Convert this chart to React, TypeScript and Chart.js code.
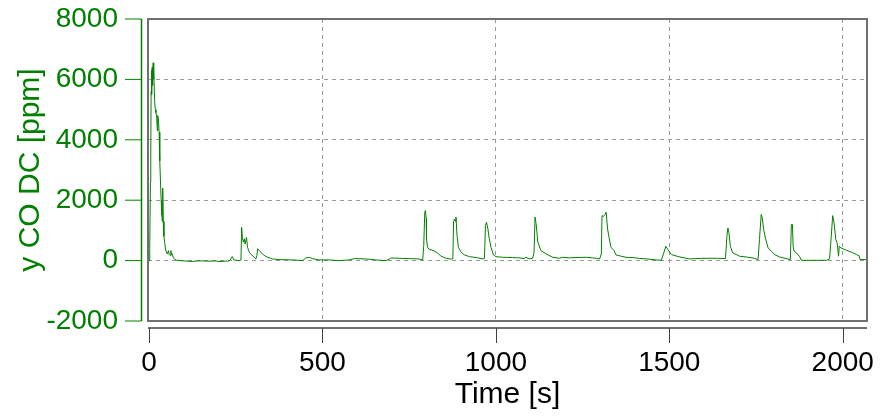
import React, { useEffect, useRef } from "react";
import { Chart, registerables } from "chart.js";

Chart.register(...registerables);

const timeS = [
  0, 2, 4, 5, 6, 7, 8, 9, 10, 11, 12, 13, 14, 16, 18, 20, 22, 24, 25, 27, 29, 31, 33, 35, 37, 38, 39, 40, 41, 43, 45, 48,
  51, 53, 56, 58, 61, 63, 65, 67, 70, 73, 80, 87, 100, 125, 140, 154, 173, 190, 202, 220, 231, 236, 240, 245, 260,
  265, 267, 269, 272, 275, 277, 281, 284, 289, 293, 303, 308, 311, 313, 318, 327, 337, 356, 375, 414, 443, 452, 462,
  471, 490, 519, 548, 577, 592, 625, 654, 683, 692, 697, 721, 750, 779, 789, 792, 795, 797, 799, 800, 803, 808, 813,
  822, 832, 842, 856, 870, 876, 878, 881, 883, 885, 888, 892, 900, 909, 924, 944, 963, 967, 970, 973, 977, 981, 986,
  993, 1000, 1020, 1048, 1068, 1082, 1087, 1096, 1106, 1110, 1113, 1116, 1121, 1130, 1145, 1164, 1183, 1193, 1212,
  1231, 1260, 1279, 1290, 1299, 1304, 1306, 1310, 1314, 1318, 1322, 1327, 1332, 1336, 1341, 1346, 1356, 1375, 1395,
  1414, 1433, 1453, 1477, 1484, 1490, 1496, 1506, 1530, 1559, 1597, 1636, 1662, 1666, 1669, 1672, 1676, 1683, 1703,
  1722, 1746, 1756, 1760, 1765, 1768, 1772, 1778, 1785, 1794, 1804, 1818, 1828, 1842, 1849, 1852, 1855, 1857, 1860,
  1867, 1875, 1881, 1915, 1953, 1962, 1967, 1971, 1975, 1980, 1984, 1988, 1990, 1995, 2001, 2011, 2026, 2040, 2047,
  2050, 2068,
];

const coPpm = [
  0, 400, 2600, 3500, 5600, 6300, 5500, 6400, 5800, 6200, 6550, 6000, 6300, 5300, 5000, 4900, 4750, 4300, 4800, 4700,
  4250, 3300, 2600, 2000, 1500, 1300, 1800, 2400, 1300, 800, 600, 350, 250, 220, 330, 200, 170, 330, 200, 220, 100, 50,
  10, 0, -10, -30, -10, -10, -20, -10, -30, -20, -10, 55, 133, 20, 0, 20, 1100, 770, 610, 720, 550, 770, 440, 280, 220,
  110, 55, 165, 390, 330, 220, 133, 55, 33, 22, 0, 88, 110, 66, 22, 22, 0, 22, 66, 55, 22, 0, 44, 88, 77, 66, 55, 20,
  500, 1600, 1660, 1400, 720, 440, 370, 360, 320, 250, 145, 77, 50, 60, 1300, 1380, 1300, 1440, 830, 440, 275, 190,
  130, 100, 55, 70, 1160, 1270, 1050, 720, 440, 190, 130, 110, 100, 90, 66, 110, 55, 77, 270, 1440, 1220, 610, 330,
  220, 110, 77, 110, 90, 100, 110, 90, 77, 55, 220, 1490, 1460, 1515, 1600, 1050, 720, 440, 390, 330, 190, 160, 110,
  100, 70, 60, 33, 10, 250, 475, 365, 200, 120, 55, 77, 77, 66, 800, 1080, 920, 475, 255, 145, 120, 77, 33, 700, 1530,
  1420, 1030, 700, 420, 310, 200, 120, 90, 55, 33, 1200, 1200, 475, 310, 250, 145, 10, 10, 10, 55, 810, 1490, 1250,
  700, 580, 145, 475, 420, 390, 340, 275, 200, 160, 33, 33,
];

const xTickValues = [0, 500, 1000, 1500, 2000];
const yTickValues = [-2000, 0, 2000, 4000, 6000, 8000];

const GREEN = "#008000";
const FONT = "'Liberation Sans', Arial, sans-serif";

const offsetAxesPlugin = {
  id: "offsetAxes",
  afterDraw(chart: any) {
    const { ctx, chartArea: a, scales } = chart;
    const xs = scales.x;
    const ys = scales.y;
    const line = (x1: number, y1: number, x2: number, y2: number) => {
      ctx.beginPath();
      ctx.moveTo(x1, y1);
      ctx.lineTo(x2, y2);
      ctx.stroke();
    };
    ctx.save();
    // plot box
    ctx.strokeStyle = "#707070";
    ctx.lineWidth = 2;
    ctx.strokeRect(a.left, a.top, a.right - a.left, a.bottom - a.top);
    // y spine (offset)
    const sx = a.left - 6.5;
    ctx.strokeStyle = GREEN;
    ctx.lineWidth = 1.5;
    line(sx, a.top, sx, a.bottom);
    ctx.lineWidth = 1;
    ys.ticks.forEach((t: any) => {
      const y = ys.getPixelForValue(t.value);
      line(a.left - 23, y, sx, y);
    });
    // x axis (offset)
    const ay = a.bottom + 7;
    ctx.strokeStyle = "#707070";
    ctx.lineWidth = 2;
    line(a.left, ay, a.right, ay);
    ctx.strokeStyle = "#404040";
    ctx.lineWidth = 1;
    xs.ticks.forEach((t: any) => {
      const x = Math.round(xs.getPixelForValue(t.value)) + 0.5;
      line(x, ay, x, ay + 15);
    });
    ctx.restore();
  },
};

export default function App() {
  const canvasRef = useRef<HTMLCanvasElement | null>(null);

  useEffect(() => {
    const canvas = canvasRef.current;
    if (!canvas) return;
    const points = timeS.map((t, i) => ({ x: t, y: coPpm[i] }));
    const chart = new Chart(canvas, {
      type: "line",
      data: {
        datasets: [
          {
            data: points,
            borderColor: GREEN,
            borderWidth: 1,
            pointRadius: 0,
            tension: 0,
            fill: false,
          },
        ],
      },
      options: {
        animation: false,
        responsive: false,
        devicePixelRatio: 1,
        layout: { padding: { top: 19, right: 15, left: 0, bottom: 0 } },
        plugins: { legend: { display: false }, tooltip: { enabled: false } },
        scales: {
          x: {
            type: "linear",
            min: -3,
            max: 2070,
            afterBuildTicks: (s: any) => {
              s.ticks = xTickValues.map((v) => ({ value: v }));
            },
            afterFit: (s: any) => {
              s.height = 96;
              s.paddingLeft = 0;
              s.paddingRight = 0;
              s.paddingTop = 0;
              s.paddingBottom = 0;
            },
            grid: {
              color: (c: any) => (c.tick && c.tick.value === 0 ? "rgba(0,0,0,0)" : "#9a9a9a"),
              lineWidth: 1,
              drawTicks: false,
            },
            border: { display: false, dash: [4, 4] },
            ticks: {
              color: "#000",
              font: { family: FONT, size: 28 },
              padding: 25,
              maxRotation: 0,
              autoSkip: false,
              callback: (v: any) => String(v),
            },
            title: {
              display: true,
              text: "Time [s]",
              color: "#000",
              font: { family: FONT, size: 30 },
              padding: { top: 0, bottom: 4 },
            },
          },
          y: {
            type: "linear",
            min: -2000,
            max: 8000,
            afterBuildTicks: (s: any) => {
              s.ticks = yTickValues.map((v) => ({ value: v }));
            },
            afterFit: (s: any) => {
              s.width = 148;
              s.paddingLeft = 0;
              s.paddingRight = 0;
              s.paddingTop = 0;
              s.paddingBottom = 0;
            },
            grid: {
              color: "#9a9a9a",
              lineWidth: 1,
              drawTicks: false,
            },
            border: { display: false, dash: [4, 4] },
            ticks: {
              color: GREEN,
              font: { family: FONT, size: 28 },
              padding: 30,
              autoSkip: false,
              callback: (v: any) => String(v),
            },
            title: {
              display: true,
              text: "y CO DC [ppm]",
              color: GREEN,
              font: { family: FONT, size: 30 },
              padding: { top: 13, bottom: 0 },
            },
          },
        },
      },
      plugins: [offsetAxesPlugin],
    });
    return () => chart.destroy();
  }, []);

  return (
    <div style={{ position: "fixed", left: 0, top: 0, width: 882, height: 417, background: "#fff" }}>
      <canvas ref={canvasRef} width={882} height={417} style={{ display: "block" }} />
    </div>
  );
}
